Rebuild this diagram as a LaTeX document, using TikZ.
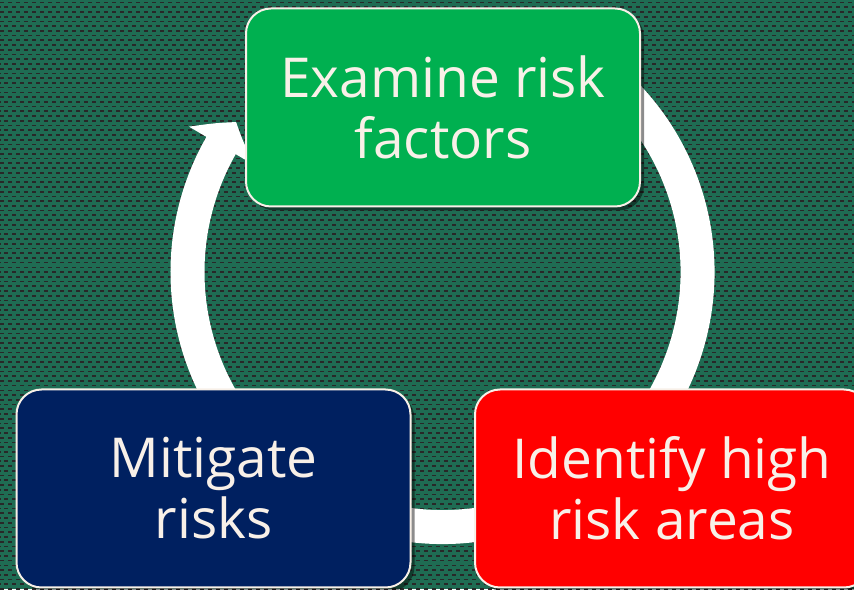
\documentclass[tikz,border=0pt]{standalone}
\usepackage{fontspec}
\setmainfont{Open Sans}[Ligatures=NoCommon]
\usetikzlibrary{arrows.meta,bending,shadows,positioning}
\definecolor{bggreen}{RGB}{31,108,83}
\definecolor{dashgray}{RGB}{40,40,40}
\definecolor{boxgreen}{RGB}{0,176,80}
\definecolor{boxred}{RGB}{255,0,0}
\definecolor{boxnavy}{RGB}{0,32,96}
\definecolor{cream}{RGB}{248,240,232}
\tikzset{
  stage/.style={draw=cream, line width=2pt, rounded corners=25pt,
    minimum width=394pt, minimum height=198pt, text=cream, align=center,
    font=\fontsize{55}{61}\selectfont,
    drop shadow={shadow xshift=4pt, shadow yshift=-4pt, opacity=0.45, fill=black}},
  dots/.style={dashgray, line width=1.7pt, dash pattern=on 4.3pt off 3.7pt},
  loop/.style={white, line width=34pt, -{Triangle[width=74pt,length=28pt,bend]}}
}

\begin{document}
\begin{tikzpicture}[x=1pt,y=1pt]
            \useasboundingbox (0,0) rectangle (854,589);
            \fill[bggreen] (0,0) rectangle (854,589);
            \foreach \i in {0,2,...,124}
                \draw[dots] (0,{586.5-\i*4.73}) -- (854,{586.5-\i*4.73});
            \foreach \i in {1,3,...,123}
                \draw[dots, dash phase=4pt] (0,{586.5-\i*4.73}) -- (854,{586.5-\i*4.73});

            \coordinate (c) at (442.5,317);
            \draw[loop] ([shift={(70:255pt)}]c) arc[start angle=70, end angle=-216, radius=255pt];

            \node[stage, fill=boxgreen] (examine) at (443,481.5) {Examine risk\\factors};
            \node[stage, fill=boxnavy] (mitigate) at (213.5,100.5) {Mitigate\\risks};
            \node[stage, fill=boxred] (identify) at (672,100.5) {Identify high\\risk areas};
        \end{tikzpicture}
\end{document}
